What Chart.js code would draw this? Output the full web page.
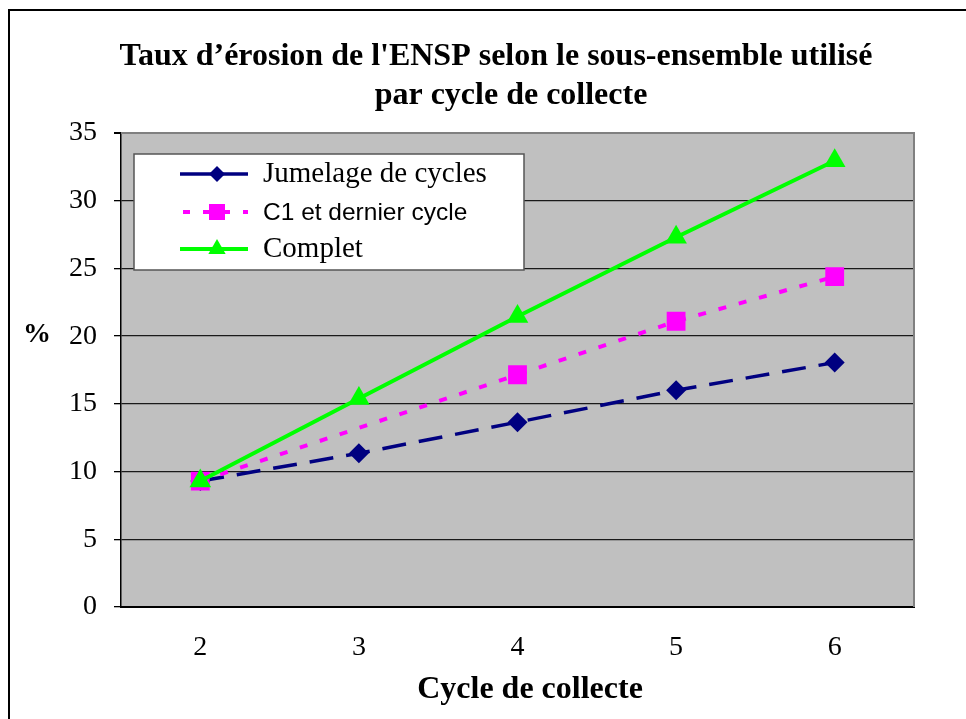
<!DOCTYPE html>
<html>
<head>
<meta charset="utf-8">
<script src="https://cdn.jsdelivr.net/npm/chart.js@4/dist/chart.umd.min.js"></script>
<style>
  html, body { margin: 0; padding: 0; background: #fff; }
  #wrap { width: 966px; height: 719px; position: relative; }
</style>
</head>
<body>
<div id="wrap"><canvas id="c" width="966" height="719"></canvas></div>
<script>
const categories = ['2', '3', '4', '5', '6'];
const jumelage = [9.3, 11.35, 13.65, 16.0, 18.05];
const c1Dernier = [9.3, null, 17.15, 21.1, 24.4];
const complet = [9.3, 15.4, 21.45, 27.3, 32.95];
const seriesNames = ['Jumelage de cycles', 'C1 et dernier cycle', 'Complet'];
const yTicks = [0, 5, 10, 15, 20, 25, 30, 35];
const titleLines = ["Taux d’érosion de l'ENSP selon le sous-ensemble utilisé", 'par cycle de collecte'];
const xTitle = 'Cycle de collecte';
const yTitle = '%';

const SERIF = '"Liberation Serif", "Times New Roman", serif';
const SANS = '"Liberation Sans", Arial, sans-serif';

const decorPlugin = {
  id: 'decor',
  beforeDraw(chart) {
    const ctx = chart.ctx, a = chart.chartArea;
    ctx.save();
    ctx.fillStyle = '#fff';
    ctx.fillRect(0, 0, chart.width, chart.height);
    ctx.fillStyle = '#C0C0C0';
    ctx.fillRect(a.left, a.top, a.right - a.left, a.bottom - a.top);
    ctx.strokeStyle = '#000';
    ctx.lineWidth = 2;
    ctx.beginPath();
    ctx.moveTo(9, chart.height);
    ctx.lineTo(9, 10);
    ctx.lineTo(chart.width, 10);
    ctx.stroke();
    ctx.restore();
  },
  beforeDatasetsDraw(chart) {
    const ctx = chart.ctx, a = chart.chartArea;
    ctx.save();
    ctx.strokeStyle = '#808080';
    ctx.lineWidth = 2;
    ctx.beginPath();
    ctx.moveTo(a.left, a.top);
    ctx.lineTo(a.right, a.top);
    ctx.lineTo(a.right, a.bottom);
    ctx.stroke();
    ctx.restore();
  },
  afterDraw(chart) {
    const ctx = chart.ctx;
    ctx.save();
    ctx.fillStyle = '#000';
    ctx.textAlign = 'center';
    ctx.textBaseline = 'middle';
    ctx.font = 'bold 32px ' + SERIF;
    ctx.fillText(titleLines[0], 496, 57);
    ctx.fillText(titleLines[1], 511, 96);
    ctx.font = 'bold 32px ' + SERIF;
    ctx.fillText(xTitle, 530, 690);
    ctx.font = 'bold 28px ' + SERIF;
    ctx.fillText(yTitle, 37, 335);

    // legend
    const lx = 134, ly = 154, lw = 390, lh = 116;
    ctx.fillStyle = '#fff';
    ctx.fillRect(lx, ly, lw, lh);
    ctx.strokeStyle = '#555';
    ctx.lineWidth = 1.5;
    ctx.strokeRect(lx, ly, lw, lh);
    const rows = [174, 212, 249];
    const fonts = ['29px ' + SERIF, '24.5px ' + SANS, '29px ' + SERIF];
    const markerR = [8, 11.3, 10];
    chart.data.datasets.forEach((ds, i) => {
      const y = rows[i];
      ctx.save();
      ctx.strokeStyle = ds.borderColor;
      ctx.lineWidth = ds.borderWidth;
      ctx.setLineDash(i === 1 ? [7, 13] : []);
      ctx.lineDashOffset = i === 1 ? -3 : 0;
      ctx.beginPath();
      ctx.moveTo(180, y);
      ctx.lineTo(248, y);
      ctx.stroke();
      ctx.restore();
      ctx.save();
      ctx.fillStyle = ds.pointBackgroundColor;
      ctx.strokeStyle = ds.pointBorderColor;
      ctx.setLineDash([]);
      Chart.helpers.drawPoint(ctx, {
        pointStyle: ds.pointStyle, rotation: 0, radius: markerR[i], borderWidth: 0
      }, 217, y);
      ctx.restore();
      ctx.fillStyle = '#000';
      ctx.textAlign = 'left';
      ctx.textBaseline = 'middle';
      ctx.font = fonts[i];
      ctx.fillText(seriesNames[i], 263, y + (i === 1 ? 1 : 0));
    });
    ctx.restore();
  }
};

const chart = new Chart(document.getElementById('c'), {
  type: 'line',
  data: {
    labels: categories,
    datasets: [
      {
        label: seriesNames[0], data: jumelage,
        borderColor: '#000080', backgroundColor: '#000080',
        pointBackgroundColor: '#000080', pointBorderColor: '#000080',
        borderWidth: 3.5, borderDash: [24, 13],
        pointStyle: 'rectRot', pointRadius: 10, pointBorderWidth: 0,
        tension: 0, order: 2
      },
      {
        label: seriesNames[1], data: c1Dernier,
        borderColor: '#FF00FF', backgroundColor: '#FF00FF',
        pointBackgroundColor: '#FF00FF', pointBorderColor: '#FF00FF',
        borderWidth: 4, borderDash: [8, 13], spanGaps: true,
        pointStyle: 'rect', pointRadius: 13.3, pointBorderWidth: 0,
        tension: 0, order: 1
      },
      {
        label: seriesNames[2], data: complet,
        borderColor: '#00FF00', backgroundColor: '#00FF00',
        pointBackgroundColor: '#00FF00', pointBorderColor: '#00FF00',
        borderWidth: 4,
        pointStyle: 'triangle', pointRadius: 12.5, pointBorderWidth: 0,
        tension: 0, order: 0
      }
    ]
  },
  options: {
    responsive: false,
    animation: false,
    devicePixelRatio: 1,
    layout: { padding: { top: 133, right: 52, left: 0, bottom: 0 } },
    plugins: {
      legend: { display: false },
      title: { display: false },
      tooltip: { enabled: false }
    },
    scales: {
      x: {
        type: 'category',
        offset: true,
        grid: { display: false, drawTicks: false },
        border: { display: true, color: '#000', width: 2 },
        ticks: { color: '#000', font: { family: SERIF, size: 28 }, padding: 24, maxRotation: 0 },
        afterFit(scale) { scale.height = 112; }
      },
      y: {
        min: 0, max: 35,
        afterBuildTicks(scale) { scale.ticks = yTicks.map(v => ({ value: v })); },
        grid: {
          color: (c) => (c.tick && c.tick.value === 35) ? '#808080' : '#1a1a1a',
          lineWidth: (c) => (c.tick && c.tick.value === 35) ? 2 : 1.3,
          tickLength: 7,
          tickColor: '#000'
        },
        border: { display: true, color: '#000', width: 1.5 },
        ticks: { color: '#000', font: { family: SERIF, size: 28 }, padding: 17 },
        afterFit(scale) { scale.width = 121; }
      }
    }
  },
  plugins: [decorPlugin]
});
</script>
</body>
</html>
